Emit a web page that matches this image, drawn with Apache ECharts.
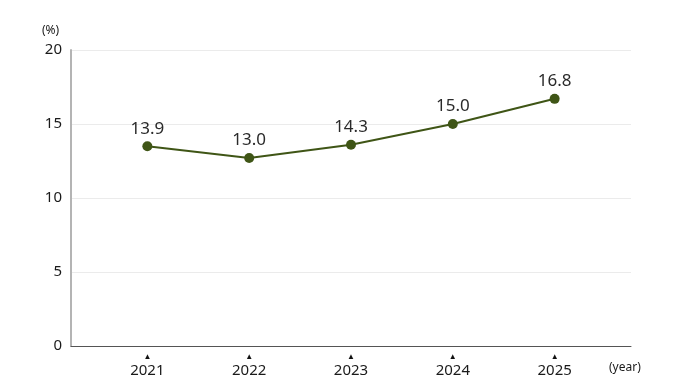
<!DOCTYPE html>
<html>
<head>
<meta charset="utf-8">
<script src="https://cdn.jsdelivr.net/npm/echarts@6/dist/echarts.min.js"></script>
<style>
html,body{margin:0;padding:0;background:#fff;}
#c{width:688px;height:390px;}
</style>
</head>
<body>
<div id="c"></div>
<script>
var years = [2021, 2022, 2023, 2024, 2025];
var values = [13.5, 12.7, 13.6, 15.0, 16.7];
var labelTexts = ['13.9', '13.0', '14.3', '15.0', '16.8'];
var yTicks = [0, 5, 10, 15, 20];
var yUnit = '(%)';
var xUnit = '(year)';

var FONT = 'Noto Sans';
var chart = echarts.init(document.getElementById('c'), null, {renderer: 'canvas'});
var option = {
  animation: false,
  backgroundColor: '#fff',
  textStyle: {fontFamily: FONT},
  grid: {left: 71, right: 57, top: 50, bottom: 44, containLabel: false},
  xAxis: {
    type: 'value',
    min: 2020.25,
    max: 2025.75,
    splitLine: {show: false},
    axisTick: {show: false},
    axisLine: {show: true, lineStyle: {color: '#555', width: 1}},
    axisLabel: {
      customValues: years,
      margin: 6,
      formatter: function (v) { return '{t|▲}\n{y|' + v + '}'; },
      rich: {
        t: {fontSize: 8, lineHeight: 9, color: '#111', fontFamily: FONT, align: 'center'},
        y: {fontSize: 15, lineHeight: 20, color: '#1a1a1a', fontFamily: FONT, align: 'center'}
      }
    }
  },
  yAxis: {
    type: 'value',
    min: yTicks[0],
    max: yTicks[yTicks.length - 1],
    interval: 5,
    axisLine: {show: true, lineStyle: {color: '#b4b4b4', width: 2}},
    axisTick: {show: false},
    splitLine: {show: true, lineStyle: {color: '#ebebeb', width: 1}},
    axisLabel: {color: '#1a1a1a', fontSize: 15, margin: 9, fontFamily: FONT}
  },
  graphic: [
    {type: 'text', left: 42, top: 25, style: {text: yUnit, fontSize: 12, fill: '#1a1a1a', fontFamily: FONT}},
    {type: 'text', left: 609, top: 362, style: {text: xUnit, fontSize: 12, fill: '#1a1a1a', fontFamily: FONT}}
  ],
  series: [{
    type: 'line',
    data: years.map(function (y, i) { return [y, values[i]]; }),
    symbol: 'circle',
    symbolSize: 10,
    itemStyle: {color: '#3f5516'},
    lineStyle: {color: '#3f5516', width: 2},
    label: {
      show: true,
      position: 'top',
      distance: 4,
      fontSize: 17,
      color: '#2a2a2a',
      fontFamily: FONT,
      formatter: function (p) { return labelTexts[p.dataIndex]; }
    }
  }]
};
chart.setOption(option);
</script>
</body>
</html>
